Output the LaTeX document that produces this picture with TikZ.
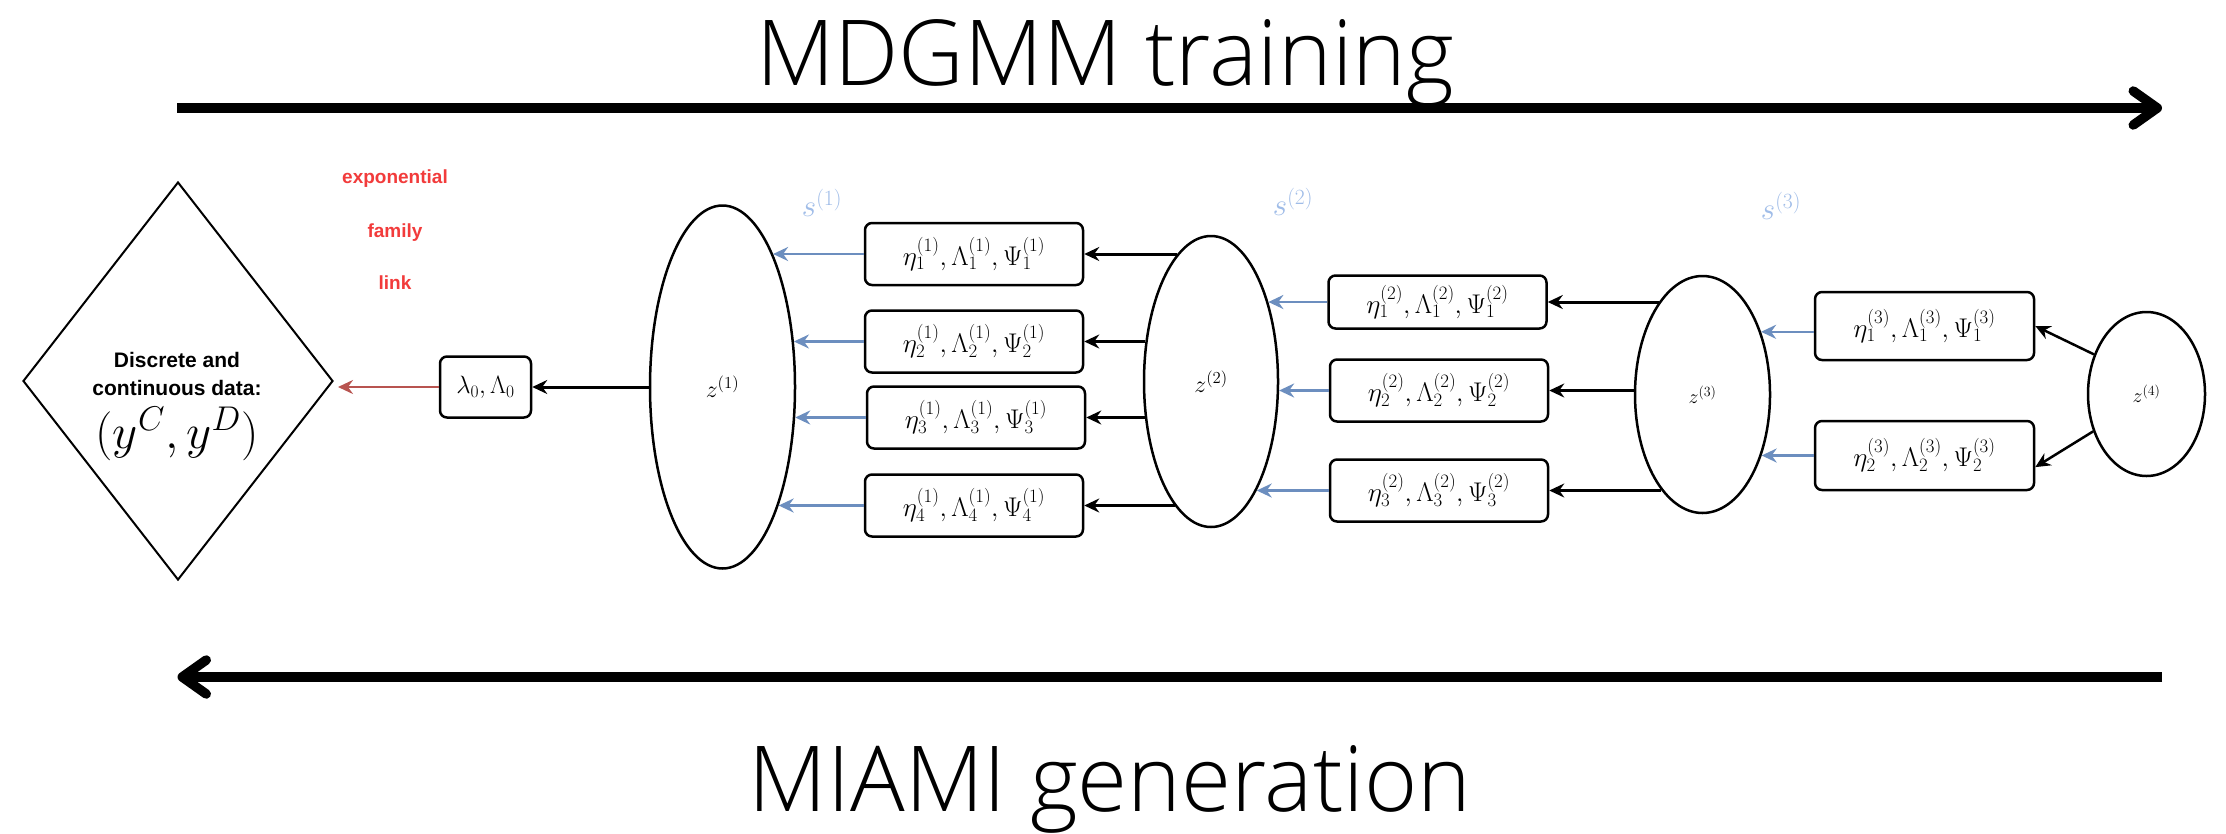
\RequirePackage{fix-cm}
\documentclass[tikz,border=0pt]{standalone}
\usepackage{fontspec}
\newfontfamily\titlefont{Open Sans Light}
\newfontfamily\labelfont{Liberation Sans}
\usetikzlibrary{shapes.geometric,arrows.meta,calc}

\definecolor{linkred}{HTML}{B85450}
\definecolor{labelred}{HTML}{F23B3B}
\definecolor{flowblue}{HTML}{6C8EBF}
\definecolor{sblue}{HTML}{9FBCE8}

% horizontal arrow from a point to the right-hand border of an ellipse node
\newcommand\arrowtoell[3]{%
  \draw[#1] let \p1=(#2), \p2=(#3.center), \p3=(#3.east), \p4=(#3.north) in
    (#2) -- ({\x2+(\x3-\x2)*sqrt(1-((\y1-\y2)/(\y4-\y2))^2)},\y1);}
% horizontal arrow from the left-hand border of an ellipse node to a point
\newcommand\arrowfromell[3]{%
  \draw[#1] let \p1=(#3), \p2=(#2.center), \p3=(#2.west), \p4=(#2.north) in
    ({\x2-(\x2-\x3)*sqrt(1-((\y1-\y2)/(\y4-\y2))^2)},\y1) -- (#3);}

\tikzset{
  latent/.style={ellipse, draw, line width=2.5pt, inner sep=0pt},
  param/.style={rectangle, draw, rounded corners=7pt, line width=2.5pt,
    minimum width=218pt, minimum height=62pt, inner sep=0pt,
    font=\fontsize{27}{31}\selectfont},
  datanode/.style={diamond, draw, line width=2pt, inner sep=0pt,
    minimum width=310pt, minimum height=398pt},
  datatext/.style={anchor=base, font=\labelfont\bfseries\fontsize{21}{25}\selectfont},
  linklabel/.style={anchor=base, text=labelred,
    font=\labelfont\bfseries\fontsize{19}{23}\selectfont},
  slabel/.style={text=sblue, font=\fontsize{31}{35}\selectfont},
  headtip/.style={-{Stealth[length=15pt,width=14pt,inset=5pt]}},
  blueflow/.style={draw=flowblue, line width=2.5pt, headtip},
  blackflow/.style={draw=black, line width=3pt, headtip},
  redflow/.style={draw=linkred, line width=2.5pt, headtip, shorten >=4pt},
  bigarrow/.style={line width=9.5pt, line cap=butt,
    -{Straight Barb[length=24pt,width=34pt,round]}},
  titletext/.style={anchor=base, font=\titlefont\fontsize{91}{100}\selectfont},
}

\begin{document}
\begin{tikzpicture}[x=1pt,y=-1pt]
\fill[white] (0,0) rectangle (2226,833);
\useasboundingbox (0,0) rectangle (2226,833);

% direction arrows and their captions
\node[titletext] (train) at (1105,85) {MDGMM training};
\node[titletext] (gen) at (1110,811) {MIAMI generation};
\coordinate (t0) at (177,108);
\coordinate (t1) at (2162,108);
\coordinate (g0) at (2162,677);
\coordinate (g1) at (177.5,677);
\draw[bigarrow] (t0) -- (t1);
\draw[bigarrow] (g0) -- (g1);

% observed data
\node[datanode] (data) at (178,381) {};
\node[datatext] (d1) at (177,367) {Discrete and};
\node[datatext] (d2) at (177,395) {continuous data:};
\node[anchor=base, font=\fontsize{49}{55}\selectfont] (d3) at (177,448) {$(y^C,y^D)$};

\node[linklabel] (l1) at (395,183) {exponential};
\node[linklabel] (l2) at (395,237) {family};
\node[linklabel] (l3) at (395,289) {link};

\node[param, minimum width=91pt, minimum height=61pt, font=\fontsize{25}{30}\selectfont]
  (lam) at (485.5,387) {$\lambda_0,\Lambda_0$};

% latent layers
\node[latent, minimum width=145pt, minimum height=363pt, font=\fontsize{24}{28}\selectfont]
  (z1) at (722.5,387) {$z^{(1)}$};
\node[latent, minimum width=134pt, minimum height=291pt, font=\fontsize{24}{28}\selectfont]
  (z2) at (1211,381.5) {$z^{(2)}$};
\node[latent, minimum width=135pt, minimum height=237pt, font=\fontsize{20}{24}\selectfont]
  (z3) at (1702.5,394.5) {$z^{(3)}$};
\node[latent, minimum width=117pt, minimum height=164pt, font=\fontsize{20}{24}\selectfont]
  (z4) at (2146.5,394) {$z^{(4)}$};

\node[slabel] (s1) at (822,203) {$s^{(1)}$};
\node[slabel] (s2) at (1293,202) {$s^{(2)}$};
\node[slabel] (s3) at (1781,206) {$s^{(3)}$};

% parameter blocks, layer 1
\node[param] (b11) at (974,254) {$\eta_1^{(1)},\Lambda_1^{(1)},\Psi_1^{(1)}$};
\node[param] (b12) at (974,341.5) {$\eta_2^{(1)},\Lambda_2^{(1)},\Psi_2^{(1)}$};
\node[param] (b13) at (976,417.5) {$\eta_3^{(1)},\Lambda_3^{(1)},\Psi_3^{(1)}$};
\node[param] (b14) at (974,505.5) {$\eta_4^{(1)},\Lambda_4^{(1)},\Psi_4^{(1)}$};

% parameter blocks, layer 2
\node[param, minimum height=53pt] (b21) at (1437.5,302) {$\eta_1^{(2)},\Lambda_1^{(2)},\Psi_1^{(2)}$};
\node[param] (b22) at (1439,390.5) {$\eta_2^{(2)},\Lambda_2^{(2)},\Psi_2^{(2)}$};
\node[param] (b23) at (1439,490.5) {$\eta_3^{(2)},\Lambda_3^{(2)},\Psi_3^{(2)}$};

% parameter blocks, layer 3
\node[param, minimum width=219pt, minimum height=68pt] (b31) at (1924.5,326) {$\eta_1^{(3)},\Lambda_1^{(3)},\Psi_1^{(3)}$};
\node[param, minimum width=219pt, minimum height=69pt] (b32) at (1924.5,455.5) {$\eta_2^{(3)},\Lambda_2^{(3)},\Psi_2^{(3)}$};

% connectors
\draw[redflow] (lam.west) -- (lam.west -| data.east);
\draw[blackflow] (z1.west) -- (lam.east);

\arrowtoell{blueflow}{b11.west}{z1}
\arrowtoell{blueflow}{b12.west}{z1}
\arrowtoell{blueflow}{b13.west}{z1}
\arrowtoell{blueflow}{b14.west}{z1}

\arrowfromell{blackflow}{z2}{b11.east}
\arrowfromell{blackflow}{z2}{b12.east}
\arrowfromell{blackflow}{z2}{b13.east}
\arrowfromell{blackflow}{z2}{b14.east}

\arrowtoell{blueflow}{b21.west}{z2}
\arrowtoell{blueflow}{b22.west}{z2}
\arrowtoell{blueflow}{b23.west}{z2}

\arrowfromell{blackflow}{z3}{b21.east}
\arrowfromell{blackflow}{z3}{b22.east}
\arrowfromell{blackflow}{z3}{b23.east}

\arrowtoell{blueflow}{b31.183}{z3}
\arrowtoell{blueflow}{b32.west}{z3}

\draw[blackflow, line width=2.5pt] (z4.143) -- (b31.east);
\draw[blackflow, line width=2.5pt] (z4.215) -- (b32.-6);
\end{tikzpicture}
\end{document}
